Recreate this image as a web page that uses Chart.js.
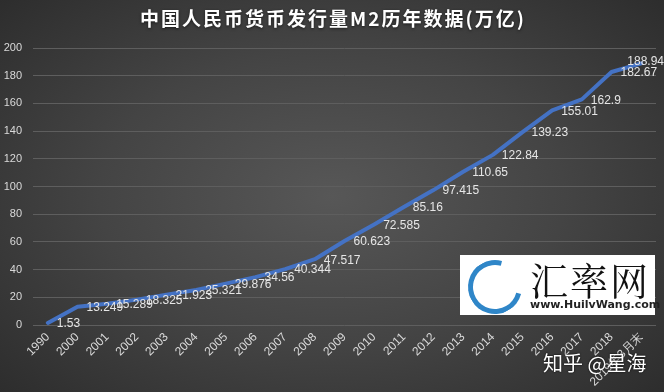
<!DOCTYPE html>
<html>
<head>
<meta charset="utf-8">
<script src="https://cdn.jsdelivr.net/npm/chart.js@4"></script>
<style>
  html, body { margin: 0; padding: 0; }
  body {
    width: 664px; height: 392px; overflow: hidden; position: relative;
    background: radial-gradient(ellipse 70% 75% at 50% 50%, #575757 0%, #444 50%, #2c2c2c 100%);
  }
  #wrap { position: absolute; left: 0; top: 0; width: 664px; height: 392px; }
  #logo {
    position: absolute; left: 460px; top: 255px; width: 195px; height: 60px;
    background: #fff; font-family: "Noto Sans CJK SC", sans-serif;
  }
  #logo .ring {
    position: absolute; left: 8px; top: 5px; width: 44px; height: 44px;
    border-radius: 50%; border: 5px solid #2f86c8; border-right-color: transparent;
    transform: rotate(-30deg);
  }
  #logo .big { position: absolute; left: 70px; top: -4px; font-size: 38px; color: #111; font-family: "Noto Serif CJK SC", "Noto Sans CJK SC", serif; letter-spacing: 2px; }
  #logo .url { position: absolute; left: 70px; top: 43px; font-size: 11px; font-weight: bold; color: #222; font-family: "DejaVu Sans", sans-serif; }
  #zh {
    position: absolute; left: 543px; top: 348px; color: #fff; font-size: 20px;
    font-family: "Noto Sans CJK SC", sans-serif; text-shadow: 0 0 2px #000;
  }
</style>
</head>
<body>
<div id="wrap"><canvas id="myChart" width="664" height="392"></canvas></div>
<div id="logo"><div class="ring"></div><div class="big">汇率网</div><div class="url">www.HuilvWang.com</div></div>
<div id="zh">知乎 @星海</div>
<script>
var anos = ["1990", "2000", "2001", "2002", "2003", "2004", "2005", "2006", "2007", "2008", "2009",
  "2010", "2011", "2012", "2013", "2014", "2015", "2016", "2017", "2018", "2019年3月末"];
var valoresM2 = [1.53, 13.249, 15.289, 18.325, 21.923, 25.321, 29.876, 34.56, 40.344, 47.517, 60.623,
  72.585, 85.16, 97.415, 110.65, 122.84, 139.23, 155.01, 162.9, 182.67, 188.94];
var titulo = "中国人民币货币发行量M2历年数据(万亿)";

// titulo com espacamento entre letras, como no original
var tituloPlugin = {
  id: 'tituloPlugin',
  afterDraw: function(chart) {
    var ctx = chart.ctx;
    ctx.save();
    ctx.font = 'bold 19px "Noto Sans CJK SC", sans-serif';
    ctx.letterSpacing = '2px';
    ctx.fillStyle = '#ffffff';
    ctx.shadowColor = 'rgba(0,0,0,0.6)';
    ctx.shadowBlur = 3;
    ctx.shadowOffsetY = 1;
    ctx.textAlign = 'center';
    ctx.textBaseline = 'middle';
    ctx.fillText(titulo, 333, 19);
    ctx.restore();
  }
};

// rotulos de dados a direita de cada ponto
var rotulos = {
  id: 'rotulos',
  afterDatasetsDraw: function(chart) {
    var ctx = chart.ctx;
    var meta = chart.getDatasetMeta(0);
    ctx.save();
    ctx.font = '12px "Liberation Sans", sans-serif';
    ctx.fillStyle = '#e6e6e6';
    ctx.textAlign = 'left';
    ctx.textBaseline = 'middle';
    meta.data.forEach(function(p, i) {
      var txt = String(valoresM2[i]);
      var w = ctx.measureText(txt).width;
      var x = Math.min(p.x + 9, chart.width - w);
      var y = p.y + 1;
      if (x < p.x + 9) y = p.y - 2;
      ctx.fillText(txt, x, y);
    });
    ctx.restore();
  }
};

var ctx = document.getElementById("myChart").getContext('2d');
var myChart = new Chart(ctx, {
  type: 'line',
  plugins: [rotulos, tituloPlugin],
  data: {
    labels: anos,
    datasets: [{
      label: "M2",
      data: valoresM2,
      borderColor: "#4472C4",
      borderWidth: 4,
      pointRadius: 0,
      tension: 0,
      borderCapStyle: 'round',
      borderJoinStyle: 'round'
    }]
  },
  options: {
    responsive: false,
    animation: false,
    layout: { padding: { left: 0, right: 8, top: 48, bottom: 0 } },
    plugins: {
      legend: { display: false },
      tooltip: { enabled: false },
      title: { display: false }
    },
    scales: {
      x: {
        offset: true,
        grid: { display: false, drawTicks: false },
        border: { display: false },
        ticks: {
          color: '#d9d9d9', minRotation: 45, maxRotation: 45, autoSkip: false,
          padding: 5,
          font: { size: 12, family: '"Liberation Sans", sans-serif' }
        },
        afterFit: function(s) { s.height = 67; }
      },
      y: {
        min: 0, max: 200,
        grid: { color: '#5e5e5e', lineWidth: 1, drawTicks: false },
        border: { display: false },
        ticks: {
          stepSize: 20, color: '#d9d9d9', padding: 11,
          font: { size: 11, family: '"Liberation Sans", sans-serif' }
        },
        afterFit: function(s) { s.width = 33; }
      }
    }
  }
});
</script>
</body>
</html>
